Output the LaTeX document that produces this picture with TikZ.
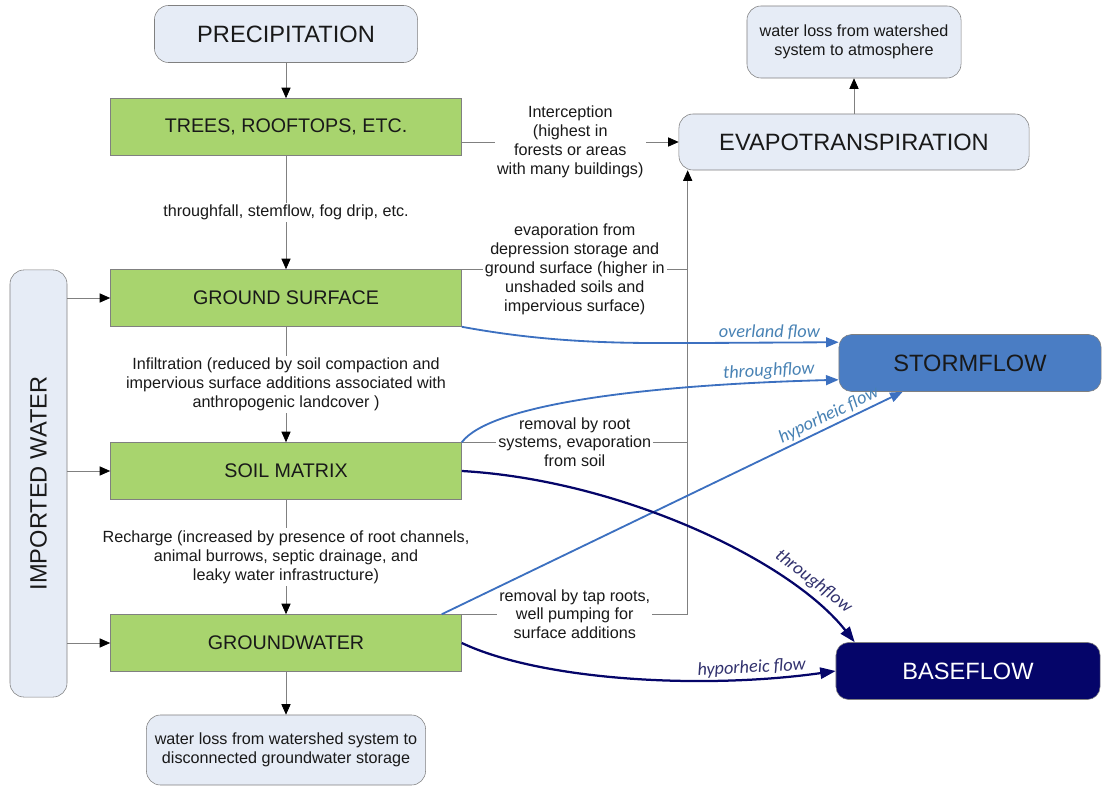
\documentclass[tikz,border=0pt]{standalone}
\usepackage{fontspec}
\setmainfont{Liberation Sans}
\newfontfamily\flowfont{Carlito}
\usetikzlibrary{arrows.meta}

\definecolor{paleblue}{RGB}{230,236,246}
\definecolor{leafgreen}{RGB}{168,212,110}
\definecolor{stormfill}{RGB}{74,125,196}
\definecolor{basenavy}{RGB}{5,5,105}
\definecolor{flowblue}{RGB}{60,112,192}
\definecolor{labelblue}{RGB}{72,130,180}
\definecolor{labelnavy}{RGB}{50,50,110}
\definecolor{linegray}{RGB}{128,128,128}

\begin{document}
\begin{tikzpicture}[
  x=0.025cm, y=-0.025cm,
  every node/.style={font=\fontsize{11.5}{13.5}\selectfont, align=center, text=black!90},
  sink/.style={draw=gray, rounded corners=10pt, fill=paleblue, inner sep=2pt},
  bigsink/.style={sink, font=\fontsize{16.8}{20}\selectfont},
  store/.style={draw=gray, fill=leafgreen, minimum width=8.775cm, minimum height=1.425cm, font=\fontsize{14}{16}\selectfont},
  outflow/.style={rounded corners=9pt, draw=gray, minimum width=6.55cm, minimum height=1.425cm, font=\fontsize{16.8}{20}\selectfont},
  link/.style={draw=linegray, line width=0.6pt, -{Triangle[length=7.5pt,width=6.5pt,color=black]}},
  plain/.style={draw=linegray, line width=0.6pt},
  note/.style={fill=white, inner sep=1.5pt},
  stormline/.style={draw=flowblue, line width=1.3pt, -{Triangle[length=9pt,width=7pt]}},
  baseline line/.style={draw=basenavy, line width=1.6pt, -{Triangle[length=11pt,width=8pt]}},
  flowlabel/.style={font=\flowfont\itshape\fontsize{13}{15}\selectfont, text=labelblue, inner sep=1.5pt},
  navylabel/.style={flowlabel, text=labelnavy}
]
  \useasboundingbox (0,0) rectangle (1102,786);

  % sources and sinks
  \node[bigsink, minimum width=6.575cm, minimum height=1.425cm] (precip) at (286,34) {PRECIPITATION};
  \node[bigsink, minimum width=8.75cm, minimum height=1.4cm] (evap) at (854,142) {EVAPOTRANSPIRATION};
  \node[sink, minimum width=5.35cm, minimum height=1.8cm] (atmos) at (854,42) {water loss from watershed\\system to atmosphere};
  \node[bigsink, rotate=90, minimum width=10.675cm, minimum height=1.425cm] (import) at (38.5,483.5) {IMPORTED WATER};
  \node[sink, minimum width=6.975cm, minimum height=1.75cm] (deep) at (286,750) {water loss from watershed system to\\disconnected groundwater storage};

  % storages
  \node[store] (trees) at (286,127) {TREES, ROOFTOPS, ETC.};
  \node[store] (ground) at (286,298) {GROUND SURFACE};
  \node[store] (soil) at (286,471) {SOIL MATRIX};
  \node[store] (gw) at (286,643) {GROUNDWATER};

  % outflows
  \node[outflow, fill=stormfill] (storm) at (970,363) {STORMFLOW};
  \node[outflow, fill=basenavy, text=white, minimum width=6.6cm] (base) at (968,671) {BASEFLOW};

  \coordinate (trunk) at ([xshift=0.225cm]evap.south west);

  % vertical chain
  \draw[link] (precip) -- (trees);
  \draw[link] (trees) -- node[note]{throughfall, stemflow, fog drip, etc.} (ground);
  \draw[link] (ground) -- node[note]{Infiltration (reduced by soil compaction and\\impervious surface additions associated with\\anthropogenic landcover )} (soil);
  \draw[link] (soil) -- node[note]{Recharge (increased by presence of root channels,\\animal burrows, septic drainage, and\\leaky water infrastructure)} (gw);
  \draw[link] (gw) -- (deep);
  \draw[link] (evap) -- (atmos);
  \foreach \n in {ground,soil,gw}
    \draw[link] (import.south |- \n.west) -- (\n.west);

  % losses to evapotranspiration
  \draw[link] (trees.east |- evap.west) -- node[note]{Interception\\(highest in\\forests or areas\\with many buildings)} (evap.west);
  \draw[plain] (ground.north east) -- node[note]{evaporation from\\depression storage and\\ground surface (higher in\\unshaded soils and\\impervious surface)} (ground.north east -| trunk);
  \draw[plain] (soil.north east) -- node[note]{removal by root\\systems, evaporation\\from soil} (soil.north east -| trunk);
  \draw[link] (gw.north east) -- node[note]{removal by tap roots,\\well pumping for\\surface additions} (gw.north east -| trunk) -- (trunk);

  % flows to streams
  \draw[stormline] (ground.south east) .. controls (560,345) and (640,343) .. (700,343)
    -- node[flowlabel, above]{overland flow} ([yshift=-0.2cm]storm.north west);
  \draw[stormline] (soil.north east) .. controls (490,405) and (640,385) .. ([yshift=0.3cm]storm.south west)
    node[flowlabel, pos=0.88, sloped, above]{throughflow};
  \draw[stormline] ([xshift=-0.5cm]gw.north east) -- node[flowlabel, pos=0.85, sloped, above]{hyporheic flow} ([xshift=1.6cm]storm.south west);
  \draw[baseline line] (soil.east) .. controls (620,480) and (790,560) .. ([xshift=0.475cm]base.north west)
    node[navylabel, pos=0.8, sloped, above=3pt]{throughflow};
  \draw[baseline line] (gw.east) .. controls (540,680) and (700,690) .. (base.west)
    node[navylabel, pos=0.8, sloped, above]{hyporheic flow};
\end{tikzpicture}
\end{document}
